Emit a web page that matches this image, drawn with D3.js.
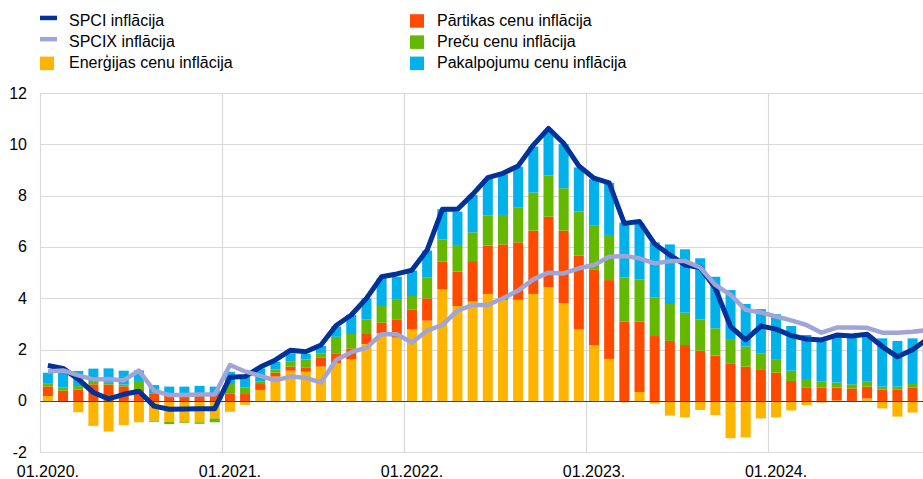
<!DOCTYPE html>
<html>
<head>
<meta charset="utf-8">
<script src="https://cdn.jsdelivr.net/npm/d3@7/dist/d3.min.js"></script>
<style>
  html, body { margin: 0; padding: 0; background: #fff; }
  svg { display: block; font-family: "Liberation Sans", Arial, sans-serif; }
</style>
</head>
<body>
<div id="chart"></div>
<script>
// monthly data, 01.2020 - 11.2024 (percentage points / %)
const months = d3.range(59).map(i => {
    const y = 2020 + Math.floor(i / 12), m = (i % 12) + 1;
    return (m < 10 ? "0" : "") + m + "." + y + ".";
});

const energy = [0.19, 0.0, -0.44, -0.97, -1.19, -0.94, -0.83, -0.77, -0.82, -0.8, -0.83, -0.68,
    -0.42, -0.15, 0.43, 0.95, 1.18, 1.14, 1.34, 1.47, 1.62, 2.22, 2.64, 2.47,
    2.79, 3.13, 4.35, 3.7, 3.87, 4.17, 3.94, 3.94, 4.17, 4.43, 3.81, 2.79,
    2.18, 1.64, -0.05, 0.35, -0.1, -0.57, -0.64, -0.35, -0.55, -1.45, -1.42, -0.68,
    -0.64, -0.37, -0.16, -0.06, 0.02, 0.0, 0.1, -0.29, -0.61, -0.45, -0.2];
const food = [0.38, 0.4, 0.45, 0.65, 0.64, 0.57, 0.47, 0.3, 0.2, 0.3, 0.3, 0.3,
    0.3, 0.27, 0.23, 0.15, 0.16, 0.17, 0.36, 0.39, 0.43, 0.39, 0.41, 0.69,
    0.78, 0.87, 1.08, 1.34, 1.58, 1.88, 2.16, 2.24, 2.47, 2.75, 2.83, 2.87,
    2.95, 3.07, 3.09, 2.74, 2.53, 2.34, 2.18, 1.96, 1.77, 1.47, 1.34, 1.21,
    1.11, 0.78, 0.53, 0.53, 0.5, 0.49, 0.46, 0.45, 0.45, 0.53, 0.53];
const goods = [0.1, 0.13, 0.13, 0.09, 0.07, 0.07, 0.31, -0.04, -0.08, -0.05, -0.06, -0.15,
    0.36, 0.26, 0.09, 0.13, 0.19, 0.31, 0.16, 0.64, 0.56, 0.57, 0.65, 0.78,
    0.52, 0.82, 0.87, 1.04, 1.12, 1.17, 1.15, 1.35, 1.48, 1.6, 1.65, 1.72,
    1.7, 1.76, 1.72, 1.65, 1.51, 1.44, 1.26, 1.22, 1.06, 0.91, 0.78, 0.65,
    0.52, 0.4, 0.29, 0.22, 0.2, 0.16, 0.21, 0.11, 0.11, 0.13, 0.13];
const services = [0.43, 0.68, 0.59, 0.52, 0.56, 0.54, 0.41, 0.32, 0.36, 0.26, 0.29, 0.26,
    0.48, 0.42, 0.52, 0.3, 0.33, 0.21, 0.28, 0.4, 0.74, 0.82, 1.08, 0.9,
    0.99, 1.04, 1.17, 1.3, 1.46, 1.43, 1.58, 1.6, 1.79, 1.78, 1.72, 1.72,
    1.81, 2.03, 2.14, 2.18, 2.14, 2.32, 2.47, 2.38, 2.01, 1.94, 1.66, 1.72,
    1.75, 1.74, 1.75, 1.58, 1.85, 1.86, 1.8, 1.88, 1.78, 1.78, 1.78];
const spci = [1.38, 1.27, 0.85, 0.33, 0.08, 0.26, 0.38, -0.2, -0.32, -0.31, -0.3, -0.3,
    0.92, 0.95, 1.32, 1.6, 1.98, 1.92, 2.18, 2.94, 3.35, 4.0, 4.84, 4.95,
    5.1, 5.88, 7.47, 7.47, 8.05, 8.7, 8.87, 9.16, 9.97, 10.62, 10.04, 9.16,
    8.68, 8.5, 6.92, 6.99, 6.12, 5.69, 5.3, 5.2, 4.39, 2.9, 2.38, 2.92,
    2.8, 2.55, 2.41, 2.38, 2.57, 2.53, 2.6, 2.12, 1.72, 2.0, 2.42];
const spcix = [1.15, 1.19, 1.0, 0.84, 0.86, 0.8, 1.18, 0.4, 0.23, 0.23, 0.25, 0.25,
    1.4, 1.15, 0.98, 0.8, 0.95, 0.9, 0.72, 1.6, 1.9, 2.08, 2.6, 2.6,
    2.28, 2.74, 2.96, 3.52, 3.74, 3.74, 4.0, 4.3, 4.74, 5.0, 4.97, 5.17,
    5.3, 5.62, 5.65, 5.56, 5.36, 5.45, 5.45, 5.2, 4.52, 4.13, 3.55, 3.45,
    3.29, 3.14, 2.96, 2.66, 2.86, 2.86, 2.85, 2.66, 2.66, 2.7, 2.76];

const yTicks = [-2, 0, 2, 4, 6, 8, 10, 12];

const barKeys = ["energy", "food", "goods", "services"];
const barColors = {energy: "#ffb400", food: "#ff4b00", goods: "#65b800", services: "#00b1ea"};
const legendItems = [
    {label: "SPCI inflācija", color: "#003299", type: "line"},
    {label: "SPCIX inflācija", color: "#a0a4d6", type: "line"},
    {label: "Enerģijas cenu inflācija", color: "#ffb400", type: "bar"},
    {label: "Pārtikas cenu inflācija", color: "#ff4b00", type: "bar"},
    {label: "Preču cenu inflācija", color: "#65b800", type: "bar"},
    {label: "Pakalpojumu cenu inflācija", color: "#00b1ea", type: "bar"}
];

const W = 923, H = 479;
const left = 40.3, step = 15.17;

const svg = d3.select("#chart").append("svg")
    .attr("width", W)
    .attr("height", H);

const table = months.map((m, i) => ({
    month: m, energy: energy[i], food: food[i], goods: goods[i], services: services[i]
}));

const x = d3.scaleBand()
    .domain(months)
    .range([left, left + months.length * step])
    .paddingInner(0.34)
    .paddingOuter(0.17);

const y = d3.scaleLinear()
    .domain([-2, 12])
    .range([452.3, 93]);

const cx = m => x(m) + x.bandwidth() / 2;

// horizontal grid
svg.append("g")
    .selectAll("line")
    .data(yTicks)
    .enter()
    .append("line")
    .attr("x1", left)
    .attr("x2", W)
    .attr("y1", d => Math.round(y(d)) + 0.5)
    .attr("y2", d => Math.round(y(d)) + 0.5)
    .attr("stroke", "#d9d9d9")
    .attr("stroke-width", 1.2);

// vertical grid at each January
const janMonths = months.filter(m => m.startsWith("01."));
svg.append("g")
    .selectAll("line")
    .data(janMonths)
    .enter()
    .append("line")
    .attr("x1", d => Math.round(x(d) - x.step() * 0.17 - 0.5) + 0.5)
    .attr("x2", d => Math.round(x(d) - x.step() * 0.17 - 0.5) + 0.5)
    .attr("y1", y(12))
    .attr("y2", y(-2))
    .attr("stroke", "#d9d9d9")
    .attr("stroke-width", 1.2);

// y tick labels
svg.append("g")
    .selectAll("text")
    .data(yTicks)
    .enter()
    .append("text")
    .attr("x", 27)
    .attr("y", d => y(d) + 5.5)
    .attr("text-anchor", "end")
    .style("font-size", "16px")
    .attr("fill", "#000")
    .text(d => d);

// x tick labels
svg.append("g")
    .selectAll("text")
    .data(janMonths)
    .enter()
    .append("text")
    .attr("x", d => cx(d))
    .attr("y", 476.5)
    .attr("text-anchor", "middle")
    .style("font-size", "16px")
    .attr("fill", "#000")
    .text(d => d);

// stacked bars
const series = d3.stack()
    .keys(barKeys)
    .offset(d3.stackOffsetDiverging)(table);

svg.append("g")
    .selectAll("g")
    .data(series)
    .enter()
    .append("g")
    .attr("fill", d => barColors[d.key])
    .selectAll("rect")
    .data(d => d)
    .enter()
    .append("rect")
    .attr("x", d => x(d.data.month))
    .attr("width", x.bandwidth())
    .attr("y", d => y(Math.max(d[0], d[1])))
    .attr("height", d => Math.abs(y(d[0]) - y(d[1])));

// zero line
svg.append("line")
    .attr("x1", left)
    .attr("x2", W)
    .attr("y1", Math.round(y(0)) + 0.5)
    .attr("y2", Math.round(y(0)) + 0.5)
    .attr("stroke", "#404040")
    .attr("stroke-width", 1);

// lines
const line = d3.line()
    .x((d, i) => cx(months[i]))
    .y(d => y(d));

svg.append("path")
    .datum(spci)
    .attr("fill", "none")
    .attr("stroke", "#003299")
    .attr("stroke-width", 5)
    .attr("stroke-linejoin", "round")
    .attr("d", line);

svg.append("path")
    .datum(spcix)
    .attr("fill", "none")
    .attr("stroke", "#a0a4d6")
    .attr("stroke-width", 4.5)
    .attr("stroke-linejoin", "round")
    .attr("d", line);

// legend
const legend = svg.append("g");
legendItems.forEach((d, i) => {
    const col = Math.floor(i / 3), row = i % 3;
    const gx = col === 0 ? 40 : 410;
    const baseline = 25.7 + row * 21.2;
    const g = legend.append("g");
    if (d.type === "line") {
        g.append("rect")
            .attr("x", gx).attr("y", baseline - 10)
            .attr("width", 17).attr("height", 4.5)
            .attr("fill", d.color);
    } else {
        g.append("rect")
            .attr("x", gx).attr("y", baseline - 11.5)
            .attr("width", 14).attr("height", 13.5)
            .attr("fill", d.color);
    }
    g.append("text")
        .attr("x", gx + (col === 0 ? 29 : 27))
        .attr("y", baseline)
        .style("font-size", "16px")
        .attr("fill", "#000")
        .text(d.label);
});
</script>
</body>
</html>
